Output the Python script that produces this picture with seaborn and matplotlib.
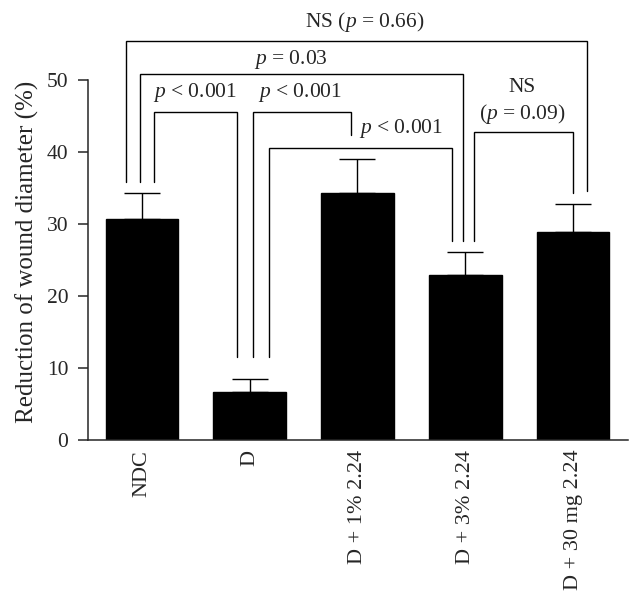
import numpy as np
import matplotlib
matplotlib.use("Agg")
import matplotlib.pyplot as plt
import seaborn as sns

groups = ["NDC", "D", "D + 1% 2.24", "D + 3% 2.24", "D + 30 mg 2.24"]
means = [30.65, 6.62, 34.35, 22.87, 28.93]
errors = [3.61, 1.81, 4.64, 3.20, 3.81]

# comparisons: label, left leg x, right leg x, bracket top, left leg bottom, right leg bottom
comparisons = [
    ("NS ($p$ = 0.66)", -0.151, 4.129, 55.46, 35.8, 34.6),
    ("$p$ = 0.03", -0.019, 2.981, 50.83, 35.8, 27.64),
    ("$p$ < 0.001", 0.114, 0.878, 45.51, 35.8, 11.48),
    ("$p$ < 0.001", 1.030, 1.937, 45.51, 11.48, 42.36),
    ("$p$ < 0.001", 1.183, 2.878, 40.60, 11.48, 27.64),
    ("NS", 3.083, 3.996, 42.82, 27.64, 34.35),
]
label_pos = [(2.07, 58.1), (1.385, 52.8), (0.494, 48.3), (1.47, 48.3), (2.403, 43.2), (3.524, 48.9)]

sns.set_style("ticks")
plt.rcParams["font.family"] = ["Liberation Serif", "DejaVu Serif"]
plt.rcParams["mathtext.fontset"] = "custom"
plt.rcParams["mathtext.it"] = "Liberation Serif:italic"
plt.rcParams["mathtext.rm"] = "Liberation Serif"

fig = plt.figure(figsize=(6.42, 5.98), dpi=100)
ax = fig.add_axes([0.1371, 0.2642, 0.8411, 0.7358])

sns.barplot(x=groups, y=means, color="black", saturation=1, width=0.673,
            edgecolor="black", errorbar=None, ax=ax)
ax.errorbar(range(len(groups)), means, yerr=[np.zeros(len(errors)), errors],
            fmt="none", ecolor="black", elinewidth=1.0, capsize=12.8, capthick=1.0)

for (text, x1, x2, top, b1, b2), (tx, ty) in zip(comparisons, label_pos):
    ax.plot([x1, x1, x2, x2], [b1, top, top, b2], color="black", lw=1.0,
            clip_on=False, solid_joinstyle="miter")
    ax.text(tx, ty, text, ha="center", va="center", fontsize=15.5, clip_on=False)
ax.text(3.53, 45.3, "($p$ = 0.09)", ha="center", va="center", fontsize=15.5)

ax.set_xlim(-0.5, 4.51)
ax.set_ylim(0, 61.11)
ax.set_yticks([0, 10, 20, 30, 40, 50])
ax.spines["top"].set_visible(False)
ax.spines["right"].set_visible(False)
ax.spines["left"].set_bounds(0, 50)
for s in ["left", "bottom"]:
    ax.spines[s].set_linewidth(1.1)
ax.tick_params(axis="y", direction="out", length=7.2, width=1.1, pad=7, labelsize=15.5)
ax.tick_params(axis="x", length=0, pad=7, labelsize=16, labelrotation=90)
ax.set_xlabel("")
ax.set_ylabel("Reduction of wound diameter (%)", fontsize=18)
ax.yaxis.set_label_coords(-0.0907, 0.428)

fig.savefig("out.png", dpi=100)
